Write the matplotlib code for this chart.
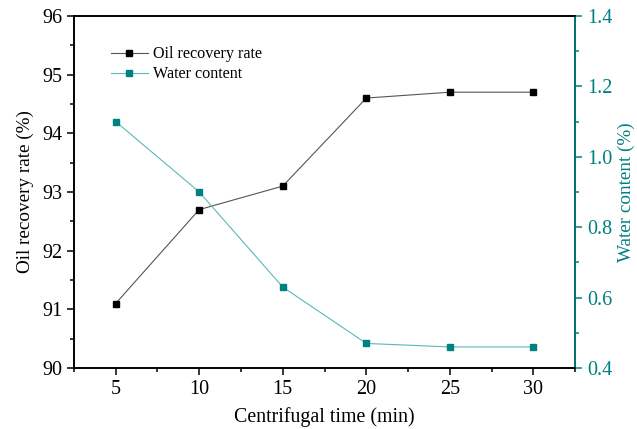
import matplotlib
matplotlib.use("Agg")
import matplotlib.pyplot as plt
from matplotlib.ticker import MultipleLocator

plt.rcParams['font.family'] = ['Liberation Serif', 'DejaVu Serif']

time_min = [5, 10, 15, 20, 25, 30]
oil_recovery = [91.1, 92.7, 93.1, 94.6, 94.7, 94.7]
water_content = [1.10, 0.90, 0.63, 0.47, 0.46, 0.46]

teal = '#008080'
teal_line = '#5cb8b8'

fig = plt.figure(figsize=(6.37, 4.29), dpi=100)
ax = fig.add_axes([0.116, 0.142, 0.787, 0.821])
ax2 = ax.twinx()

l1, = ax.plot(time_min, oil_recovery, color='#555555', lw=0.8, marker='s', ms=5,
              mfc='black', mec='black', label='Oil recovery rate')
l2, = ax2.plot(time_min, water_content, color=teal_line, lw=0.8, marker='s', ms=5,
               mfc=teal, mec=teal, label='Water content')

ax.set_xlim(2.5, 32.5)
ax.set_ylim(90, 96)
ax2.set_ylim(0.4, 1.4)
ax.set_xticks(time_min)
ax.xaxis.set_minor_locator(MultipleLocator(2.5))
ax.yaxis.set_major_locator(MultipleLocator(1))
ax.yaxis.set_minor_locator(MultipleLocator(0.5))
ax2.yaxis.set_major_locator(MultipleLocator(0.2))
ax2.yaxis.set_minor_locator(MultipleLocator(0.1))
ax2.set_yticklabels([f'{v:.1f}' for v in ax2.get_yticks()])

for a in (ax, ax2):
    for s in a.spines.values():
        s.set_linewidth(1.2)
ax.tick_params(which='major', direction='out', length=5, width=1.1, labelsize=14.5)
ax.tick_params(which='minor', direction='out', length=3, width=1.1)
ax2.tick_params(which='major', direction='out', length=5, width=1.1, labelsize=14.5,
                colors=teal)
ax2.tick_params(which='minor', direction='out', length=3, width=1.1, colors=teal)
ax2.spines['right'].set_color(teal)

ax.set_xlabel('Centrifugal time (min)', fontsize=14.3, labelpad=6)
ax.set_ylabel('Oil recovery rate (%)', fontsize=13.8, labelpad=6)
ax2.set_ylabel('Water content (%)', fontsize=13.8, color=teal, labelpad=4)

ax.legend(handles=[l1, l2], loc='upper left', bbox_to_anchor=(0.045, 0.955),
          frameon=False, fontsize=11.6, handlelength=2.3, handletextpad=0.3,
          labelspacing=0.25)

fig.savefig('out.png', dpi=100)
